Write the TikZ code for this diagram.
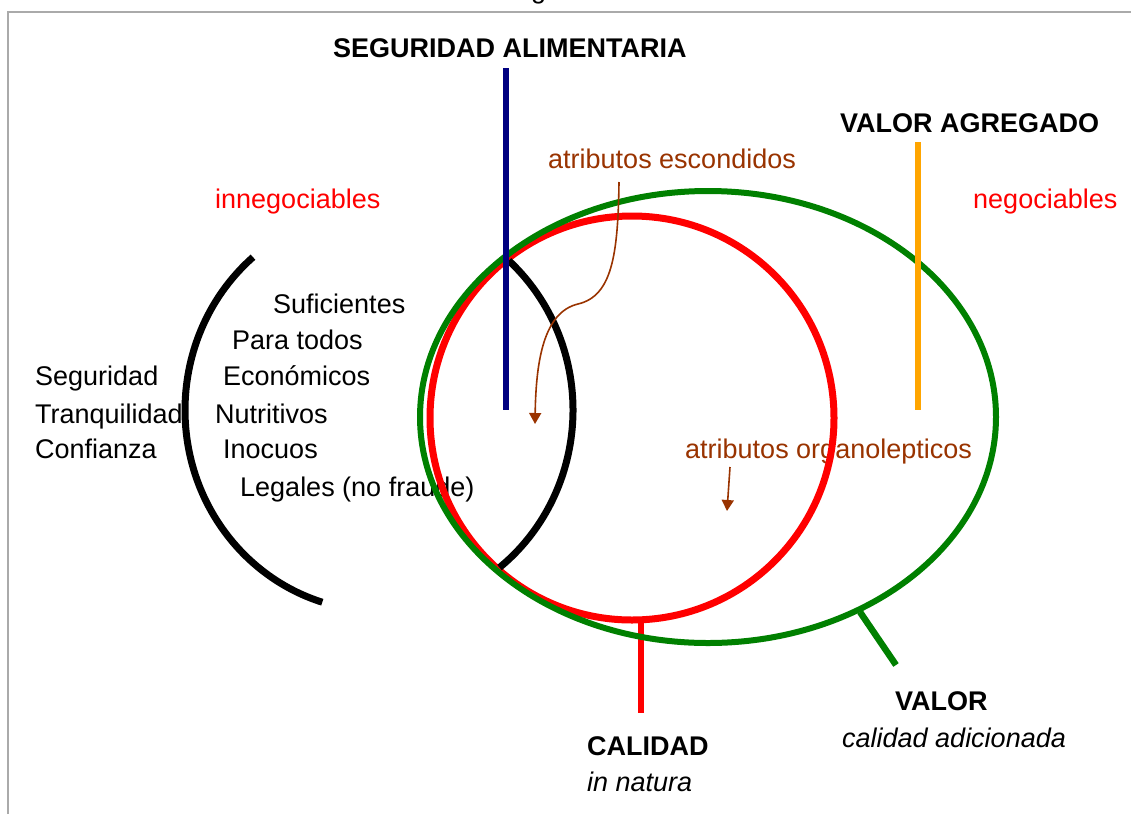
\documentclass[tikz,border=0pt]{standalone}
\usepackage{fontspec}
\setmainfont{Liberation Sans}
\usetikzlibrary{arrows.meta}
\definecolor{navyline}{RGB}{0,0,128}
\definecolor{orangeline}{RGB}{255,165,0}
\definecolor{greenline}{RGB}{0,128,0}
\definecolor{redline}{RGB}{255,0,0}
\definecolor{browntxt}{RGB}{153,51,0}
\definecolor{framegray}{RGB}{170,170,170}
\begin{document}
\begin{tikzpicture}[x=1pt,y=-1pt,
  txt/.style={inner sep=0pt, anchor=base west, font=\fontsize{27}{32}\selectfont},
  btxt/.style={txt, font=\fontsize{27}{32}\selectfont\bfseries},
  itxt/.style={txt, font=\fontsize{27}{32}\selectfont\itshape},
  redtxt/.style={txt, text=redline},
  browntext/.style={txt, text=browntxt},
  thick line/.style={line width=6.5pt},
  pointer/.style={draw=browntxt, line width=1.6pt, -{Triangle[width=12pt,length=11pt]}}
]
\useasboundingbox (0,0) rectangle (1131,814);
% frame
\draw[framegray, line width=2pt] (8,814) -- (8,12) -- (1131,12);
\node[txt] (frag) at (531,-2) {g};

% texts
\node[btxt] (seg) at (333,57) {SEGURIDAD ALIMENTARIA};
\node[btxt] (vag) at (840,132) {VALOR AGREGADO};
\node[browntext] (esc) at (548,168) {atributos escondidos};
\node[redtxt] (inneg) at (215,208) {innegociables};
\node[redtxt] (neg) at (973,208) {negociables};
\node[txt] (suf) at (273,313) {Suficientes};
\node[txt] (para) at (232,349) {Para todos};
\node[txt] (eco) at (223,385) {Económicos};
\node[txt] (nut) at (215,423) {Nutritivos};
\node[txt] (ino) at (223,458) {Inocuos};
\node[txt] (leg) at (240,496) {Legales (no fraude)};
\node[txt] (sgd) at (35,385) {Seguridad};
\node[txt] (trq) at (35,423) {Tranquilidad};
\node[txt] (cnf) at (35,458) {Confianza};
\node[browntext] (org) at (685,458) {atributos organolepticos};
\node[btxt] (cal) at (587,755) {CALIDAD};
\node[itxt] (nat) at (587,791) {in natura};
\node[btxt] (val) at (895,710) {VALOR};
\node[itxt] (adi) at (842,747) {calidad adicionada};

% shapes
\coordinate (redC) at (632,418);
\coordinate (blkC) at (379,410);
\coordinate (grnC) at (708,417);
\draw[redline, line width=7pt] (redC) circle[radius=202pt];
\coordinate (redStubTop) at (641,617);
\coordinate (redStubBot) at (641,713);
\draw[redline, thick line] (redStubTop) -- (redStubBot);
\draw[black, line width=7pt] ([shift={(130.5:194pt and 201pt)}]blkC)
  arc[start angle=130.5, end angle=253, x radius=194pt, y radius=201pt];
\draw[black, line width=7pt] ([shift={(48:194pt and 201pt)}]blkC)
  arc[start angle=48, end angle=-51.6, x radius=194pt, y radius=201pt];
\draw[greenline, line width=6pt] (grnC) ellipse[x radius=288pt, y radius=226pt];
\coordinate (grnStubTop) at (860,612);
\coordinate (grnStubBot) at (896,665);
\draw[greenline, thick line] (grnStubTop) -- (grnStubBot);
\coordinate (blueTop) at (506,68);
\coordinate (blueBot) at (506,410);
\draw[navyline, thick line] (blueTop) -- (blueBot);
\coordinate (orTop) at (918,142);
\coordinate (orBot) at (918,410);
\draw[orangeline, thick line] (orTop) -- (orBot);

% pointers
\coordinate (escStart) at (619,182);
\coordinate (escEnd) at (535,424);
\draw[pointer] (escStart) .. controls (618,255) and (612,296) .. (578,304)
  .. controls (544,312) and (536,360) .. (escEnd);
\coordinate (orgStart) at (730,467);
\coordinate (orgEnd) at (727,511);
\draw[pointer] (orgStart) -- (orgEnd);
\end{tikzpicture}
\end{document}
